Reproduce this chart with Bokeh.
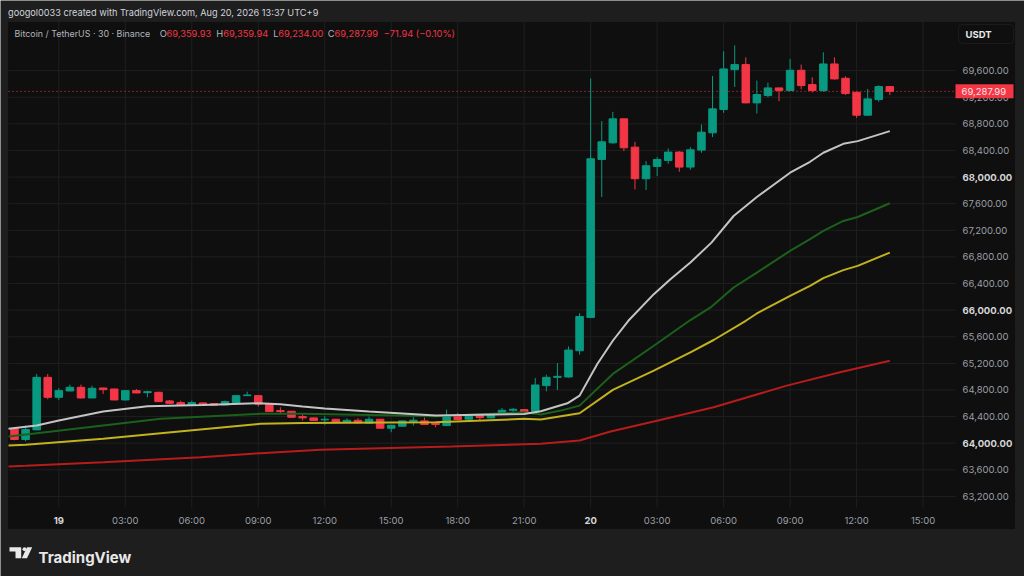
from bokeh.plotting import figure
from bokeh.models import Label, BoxAnnotation, PolyAnnotation
from bokeh.embed import file_html
from bokeh.resources import INLINE

# BTC/USDT 30 min candles, index 0 = 18 Aug 22:00, last = 20 Aug 13:30
opens = [64216, 64055, 64200, 64990, 64690, 64785, 64840, 64680, 64830, 64815,
         64650, 64790, 64760, 64765, 64635, 64610, 64570, 64605, 64595, 64575,
         64610, 64715, 64715, 64590, 64490, 64480, 64400, 64380, 64350, 64360,
         64310, 64345, 64300, 64360, 64225, 64255, 64330, 64335, 64300, 64265,
         64400, 64360, 64415, 64380, 64440, 64495, 64505, 64480, 64865, 64990,
         64995, 65390, 65890, 68265, 68515, 68875, 68450, 67975, 68160, 68250,
         68375, 68150, 68405, 68665, 69015, 69615, 69690, 69115, 69225, 69340,
         69300, 69605, 69390, 69300, 69700, 69485, 69275, 68930, 69165, 69359.93]
highs = [64225, 64265, 65041, 65041, 64830, 64880, 64880, 64865, 64835, 64820,
         64795, 64815, 64790, 64775, 64650, 64640, 64640, 64615, 64600, 64640,
         64720, 64775, 64720, 64600, 64540, 64485, 64440, 64385, 64405, 64365,
         64375, 64375, 64400, 64365, 64275, 64340, 64390, 64385, 64305, 64505,
         64455, 64410, 64420, 64450, 64530, 64530, 64510, 64980, 65030, 65205,
         65455, 65955, 69480, 68840, 68980, 68880, 68530, 68240, 68300, 68430,
         68390, 68450, 68790, 69520, 69890, 69980, 69800, 69450, 69420, 69345,
         69775, 69690, 69500, 69875, 69800, 69515, 69280, 69325, 69380, 69359.94]
lows = [64045, 64030, 64195, 64660, 64650, 64780, 64670, 64675, 64740, 64645,
        64645, 64750, 64690, 64620, 64590, 64565, 64565, 64575, 64565, 64570,
        64605, 64710, 64550, 64470, 64430, 64385, 64340, 64335, 64275, 64305,
        64305, 64300, 64295, 64220, 64165, 64250, 64265, 64275, 64240, 64260,
        64350, 64355, 64340, 64375, 64435, 64465, 64465, 64475, 64780, 64800,
        64985, 65330, 65880, 67700, 68500, 68390, 67815, 67805, 68015, 68200,
        68080, 68110, 68365, 68600, 68965, 69355, 69110, 68955, 69200, 69140,
        69295, 69320, 69270, 69280, 69465, 69235, 68890, 68925, 69130, 69234.00]
closes = [64055, 64205, 64990, 64690, 64790, 64840, 64680, 64825, 64805, 64650,
          64790, 64755, 64775, 64625, 64600, 64570, 64610, 64580, 64570, 64625,
          64715, 64725, 64590, 64475, 64475, 64390, 64380, 64340, 64360, 64310,
          64345, 64305, 64360, 64225, 64270, 64335, 64345, 64280, 64280, 64400,
          64355, 64405, 64385, 64445, 64495, 64510, 64470, 64875, 64990, 65005,
          65400, 65905, 68275, 68530, 68875, 68440, 67975, 68170, 68265, 68375,
          68150, 68410, 68675, 69025, 69625, 69690, 69115, 69240, 69340, 69300,
          69605, 69375, 69300, 69700, 69475, 69255, 68930, 69175, 69359.93, 69287.99]

# moving averages (candle index, price)
ma_white_x = [-0.54, 2, 4, 8, 12, 17, 22, 24, 26, 28, 32, 38, 46, 47.5, 49.9, 51, 52.6,
              54, 55.4, 57.7, 59.2, 61, 62.9, 64.9, 67, 70, 71.8, 73, 74.8, 76.1, 79]
ma_white_y = [64216, 64265, 64340, 64475, 64555, 64576, 64600, 64585, 64550, 64520, 64475,
              64415, 64440, 64480, 64600, 64715, 65191, 65540, 65840, 66240, 66465, 66715,
              67015, 67415, 67700, 68065, 68230, 68365, 68500, 68540, 68690]
ma_green_x = [-0.54, 2, 8, 13.2, 22.2, 26, 38, 46, 47.5, 49.3, 51, 54, 57.7, 61, 62.9,
              64.9, 67, 70, 71.8, 73, 74.8, 76.1, 79]
ma_green_y = [64100, 64150, 64265, 64366, 64441, 64441, 64405, 64465, 64430, 64490, 64565,
              65041, 65465, 65851, 66050, 66340, 66565, 66890, 67066, 67190, 67340, 67400, 67606]
ma_yellow_x = [-0.54, 1, 8, 13.2, 22.2, 26, 38, 46, 47.5, 51, 54, 57.7, 61, 63.1, 66,
               67, 70, 71.8, 73, 74.8, 76.1, 79]
ma_yellow_y = [63965, 63976, 64066, 64150, 64291, 64303, 64315, 64366, 64355, 64450, 64801,
               65090, 65365, 65551, 65840, 65950, 66215, 66365, 66481, 66601, 66665, 66865]
ma_red_x = [-0.54, 1, 8, 16.8, 22.2, 27.6, 39.4, 47.5, 51, 53.8, 57.7, 63.1, 69.7, 74.5, 79]
ma_red_y = [63650, 63660, 63715, 63790, 63850, 63900, 63950, 63990, 64040, 64175, 64325,
            64540, 64865, 65065, 65240]

price_ticks = [63200, 63600, 64000, 64400, 64800, 65200, 65600, 66000, 66400,
               66800, 67200, 67600, 68000, 68400, 68800, 69200, 69600]
price_bold = [64000, 66000, 68000]
time_ticks = [4, 10, 16, 22, 28, 34, 40, 46, 52, 58, 64, 70, 76, 82]
time_labels = ["19", "03:00", "06:00", "09:00", "12:00", "15:00", "18:00", "21:00",
               "20", "03:00", "06:00", "09:00", "12:00", "15:00"]
time_bold = ["19", "20"]

UP, DOWN = "#089981", "#f23645"
FONT = "Inter"
W, H = 1024, 576
# price pane in data units (candle index / price); the canvas maps around it
PANE_X = (-0.54, 84.93)
PANE_Y = (63034, 70338)

p = figure(width=W, height=H, x_range=(-1.2635, 91.155), y_range=(61996.5, 70653.8),
           output_backend="svg", toolbar_location=None, x_axis_location=None,
           y_axis_location=None, min_border=0, background_fill_color="#1e1e1e",
           border_fill_color="#1e1e1e", outline_line_color=None)
p.grid.visible = False

# chart panel (pane + scales)
p.add_layout(BoxAnnotation(left=7, right=1015, top=H - 21, bottom=H - 529,
                           left_units="screen", right_units="screen", top_units="screen",
                           bottom_units="screen", fill_color="#0f0f0f", fill_alpha=1,
                           line_color="#2e2e2e", line_width=1, level="image"))

# grid
p.segment([PANE_X[0]] * len(price_ticks), price_ticks, [PANE_X[1]] * len(price_ticks), price_ticks,
          color="#1f1f1f", line_width=1)
p.segment(time_ticks, [PANE_Y[0]] * len(time_ticks), time_ticks, [PANE_Y[1]] * len(time_ticks),
          color="#1f1f1f", line_width=1)

# price scale
for v in price_ticks:
    bold = v in price_bold
    p.add_layout(Label(x=962, y=v, x_units="screen", text=f"{v:,.2f}",
                       text_color="#d6d6d6" if bold else "#9c9fa6", text_font=FONT,
                       text_font_size="9.5px", text_font_style="bold" if bold else "normal",
                       text_baseline="middle"))
# time scale
for t, l in zip(time_ticks, time_labels):
    bold = l in time_bold
    p.add_layout(Label(x=t, y=H - 519.5, y_units="screen", text=l,
                       text_color="#d6d6d6" if bold else "#9c9fa6", text_font=FONT,
                       text_font_size="9.5px", text_font_style="bold" if bold else "normal",
                       text_align="center", text_baseline="middle"))

# candles
idx = list(range(len(opens)))
colors = [UP if c >= o else DOWN for o, c in zip(opens, closes)]
body_top = [max(o, c) for o, c in zip(opens, closes)]
body_bot = [min(o, c) for o, c in zip(opens, closes)]
p.segment(idx, lows, idx, highs, color=colors, line_width=1)
p.vbar(x=idx, width=0.68, top=body_top, bottom=body_bot, fill_color=colors, line_color=colors)

# moving averages
p.line(ma_red_x, ma_red_y, color="#b71c1c", line_width=2)
p.line(ma_yellow_x, ma_yellow_y, color="#c2b21e", line_width=2)
p.line(ma_green_x, ma_green_y, color="#1b611b", line_width=2)
p.line(ma_white_x, ma_white_y, color="#c4c4c4", line_width=2)

# last price line and tag
last = closes[-1]
p.segment([PANE_X[0]], [last], [PANE_X[1]], [last], color=DOWN, line_width=1, line_dash="1 3")
half = 7 * (PANE_Y[1] - PANE_Y[0]) / 486
p.add_layout(BoxAnnotation(left=955, right=1013, top=last + half, bottom=last - half,
                           left_units="screen", right_units="screen", fill_color=DOWN,
                           fill_alpha=1, line_color=None))
p.add_layout(Label(x=961, y=last, x_units="screen", text=f"{last:,.2f}", text_color="#ffe4e8",
                   text_font=FONT, text_font_size="9.5px", text_baseline="middle"))

# currency box
p.add_layout(BoxAnnotation(left=958, right=1013, top=H - 24, bottom=H - 43,
                           left_units="screen", right_units="screen", top_units="screen",
                           bottom_units="screen", fill_color="#0f0f0f", fill_alpha=1,
                           line_color="#3a3a3a", line_width=1, border_radius=4))
p.add_layout(Label(x=965, y=H - 33.5, x_units="screen", y_units="screen", text="USDT",
                   text_color="#e8e8e8", text_font=FONT, text_font_size="9.5px",
                   text_font_style="bold", text_baseline="middle"))

# header texts
p.add_layout(Label(x=7.5, y=H - 12.3, x_units="screen", y_units="screen",
                   text="googol0033 created with TradingView.com, Aug 20, 2026 13:37 UTC+9",
                   text_color="#d1d4dc", text_font=FONT, text_font_size="9.2px",
                   text_baseline="middle"))
change = closes[-1] - closes[-2]
pct = change / closes[-2] * 100
info = [(14, "Bitcoin / TetherUS · 30 · Binance", "#b2b5be"),
        (159.3, "O", "#b2b5be"), (166, f"{opens[-1]:,.2f}", DOWN),
        (215.7, "H", "#b2b5be"), (222.7, f"{highs[-1]:,.2f}", DOWN),
        (272.7, "L", "#b2b5be"), (277.7, f"{lows[-1]:,.2f}", DOWN),
        (327.3, "C", "#b2b5be"), (334, f"{closes[-1]:,.2f}", DOWN),
        (383.3, f"{change:+,.2f} ({pct:+.2f}%)".replace("-", "\u2212"), DOWN)]
for x, t, c in info:
    p.add_layout(Label(x=x, y=H - 33.3, x_units="screen", y_units="screen", text=t,
                       text_color=c, text_font=FONT,
                       text_font_size="8.9px" if x == 14 else "9.3px",
                       text_baseline="middle"))

# logo
logo = dict(xs_units="screen", ys_units="screen", fill_color="#e8e8e8", fill_alpha=1, line_color=None)
p.add_layout(PolyAnnotation(xs=[9, 20.7, 20.7, 15, 15, 9], ys=[29.3, 29.3, 18.3, 18.3, 25, 25], **logo))
p.add_layout(PolyAnnotation(xs=[22, 22.6, 24, 25.4, 26, 25.4, 24, 22.6],
                            ys=[27.3, 28.7, 29.3, 28.7, 27.3, 25.9, 25.3, 25.9], **logo))
p.add_layout(PolyAnnotation(xs=[26.5, 31.7, 26.5, 21.3], ys=[29.3, 29.3, 18.3, 18.3], **logo))
p.add_layout(Label(x=38, y=H - 557.3, x_units="screen", y_units="screen", text="TradingView",
                   text_color="#e8e8e8", text_font=FONT, text_font_size="15px",
                   text_font_style="bold", text_baseline="alphabetic"))

open("out.html", "w").write(file_html(p, INLINE))
